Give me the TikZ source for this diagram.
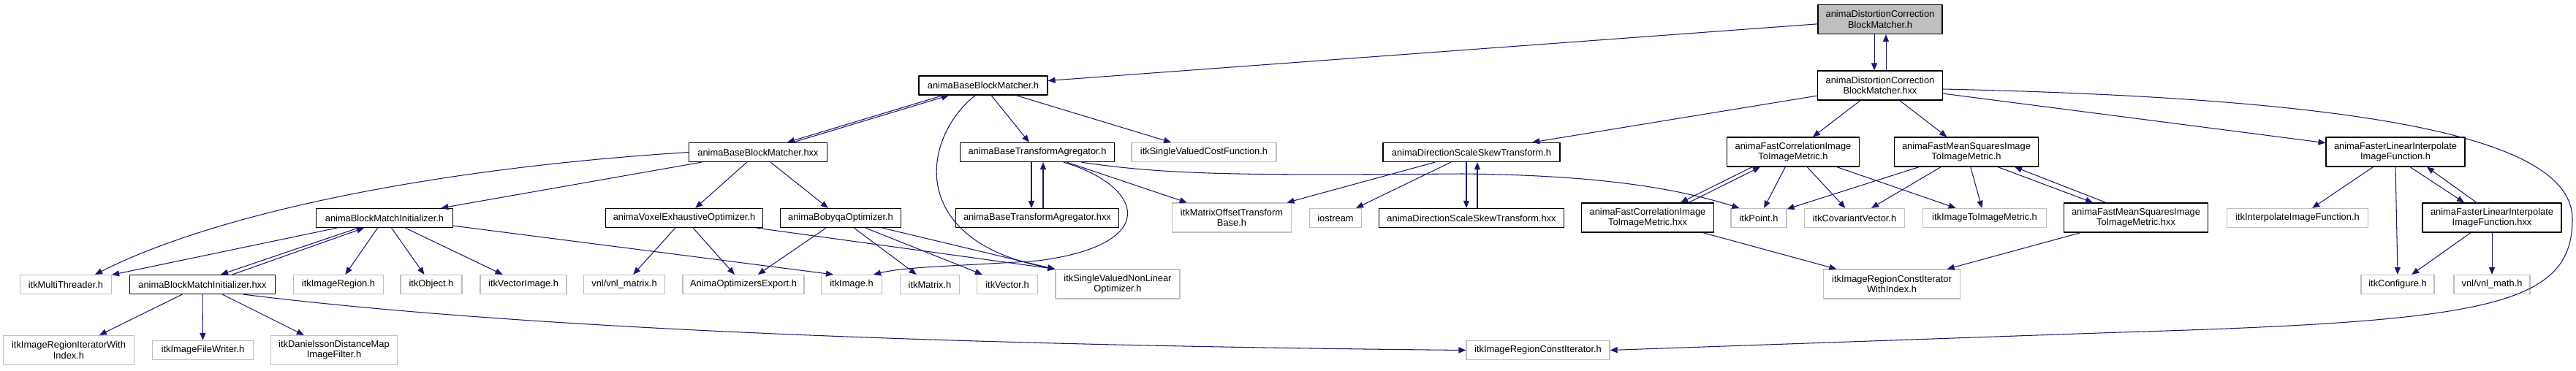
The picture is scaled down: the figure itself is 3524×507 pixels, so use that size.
\documentclass[tikz,border=0pt]{standalone}
\usepackage{fontspec}
\setmainfont{Liberation Sans}
\usetikzlibrary{arrows.meta,calc}
\definecolor{edgeblue}{HTML}{191970}
\definecolor{extgray}{HTML}{BFBFBF}
\tikzset{
  box/.style={draw=black, line width=0.35pt, fill=white, inner sep=0pt,
    minimum height=2.6mm, align=center, font=\fontsize{3.66pt}{4.07pt}\selectfont},
  ext/.style={box, draw=extgray},
  cur/.style={box, fill=extgray},
  two/.style={minimum height=4mm},
  dep/.style={draw=edgeblue, line width=0.3pt, -{Triangle[length=2.85pt,width=2.3pt]}},
}
\begin{document}
\begin{tikzpicture}[x=0.1mm, y=-0.1mm, line join=round]
\useasboundingbox (0,0) rectangle (3524,507);
% 第一、二层
\node[cur, two, minimum width=17mm]   (dcbmh) at (2572,26.5) {animaDistortionCorrection\\BlockMatcher.h};
\node[box, two, minimum width=17.1mm] (dcbmx) at (2572,117)  {animaDistortionCorrection\\BlockMatcher.hxx};
\node[box, minimum width=17.6mm]      (bbmh)  at (1345,117)  {animaBaseBlockMatcher.h};
% 第三层
\node[box, minimum width=18.9mm]      (bbmx)    at (1037,208.5) {animaBaseBlockMatcher.hxx};
\node[box, minimum width=21.1mm]      (btah)    at (1419,208.5) {animaBaseTransformAgregator.h};
\node[ext, minimum width=19.8mm]      (itksvcf) at (1647,208.5) {itkSingleValuedCostFunction.h};
\node[box, minimum width=24.2mm]      (dssth)   at (2013,208.5) {animaDirectionScaleSkewTransform.h};
\node[box, two, minimum width=18.1mm] (fch)     at (2453,208)   {animaFastCorrelationImage\\ToImageMetric.h};
\node[box, two, minimum width=19.7mm] (fmsh)    at (2690,208)   {animaFastMeanSquaresImage\\ToImageMetric.h};
\node[box, two, minimum width=19mm]   (flh)     at (3277,208)   {animaFasterLinearInterpolate\\ImageFunction.h};
% 第四层
\node[box, minimum width=18.7mm]      (bmih)     at (526,298.5)  {animaBlockMatchInitializer.h};
\node[box, minimum width=21.5mm]      (veo)      at (936,298.5)  {animaVoxelExhaustiveOptimizer.h};
\node[box, minimum width=16.5mm]      (bobyqa)   at (1150,298.5) {animaBobyqaOptimizer.h};
\node[box, minimum width=22.3mm]      (btax)     at (1419,298.5) {animaBaseTransformAgregator.hxx};
\node[ext, two, minimum width=16.3mm] (itkmotb)  at (1685,298)   {itkMatrixOffsetTransform\\Base.h};
\node[ext, minimum width=7.1mm]       (iostream) at (1827,298.5) {iostream};
\node[box, minimum width=25.3mm]      (dsstx)    at (2013,298.5) {animaDirectionScaleSkewTransform.hxx};
\node[box, two, minimum width=18.1mm] (fcx)      at (2254,298)   {animaFastCorrelationImage\\ToImageMetric.hxx};
\node[ext, minimum width=7.6mm]       (itkpoint) at (2406,298.5) {itkPoint.h};
\node[ext, minimum width=13.7mm]      (itkcv)    at (2537,298.5) {itkCovariantVector.h};
\node[ext, minimum width=16.9mm]      (itki2im)  at (2715,298.5) {itkImageToImageMetric.h};
\node[box, two, minimum width=19.7mm] (fmsx)     at (2922,298)   {animaFastMeanSquaresImage\\ToImageMetric.hxx};
\node[ext, minimum width=19.3mm]      (itkiif)   at (3143,298.5) {itkInterpolateImageFunction.h};
\node[box, two, minimum width=19mm]   (flx)      at (3409,298)   {animaFasterLinearInterpolate\\ImageFunction.hxx};
% 第五层
\node[ext, minimum width=12.5mm]      (itkmt)     at (90,389.5)   {itkMultiThreader.h};
\node[box, minimum width=19.9mm]      (bmix)      at (277,389.5)  {animaBlockMatchInitializer.hxx};
\node[ext, minimum width=12.3mm]      (itkir)     at (463,389.5)  {itkImageRegion.h};
\node[ext, minimum width=8.4mm]       (itkobj)    at (590,389.5)  {itkObject.h};
\node[ext, minimum width=11.8mm]      (itkvi)     at (716,389.5)  {itkVectorImage.h};
\node[ext, minimum width=11.1mm]      (vnlmat)    at (854,389.5)  {vnl/vnl\_matrix.h};
\node[ext, minimum width=16.6mm]      (aoe)       at (1017,389.5) {AnimaOptimizersExport.h};
\node[ext, minimum width=8.3mm]       (itkimage)  at (1165,389.5) {itkImage.h};
\node[ext, minimum width=8.1mm]       (itkmatrix) at (1272,389.5) {itkMatrix.h};
\node[ext, minimum width=8.3mm]       (itkvector) at (1378,389.5) {itkVector.h};
\node[ext, two, minimum width=17mm]   (itksvnlo)  at (1529,389)   {itkSingleValuedNonLinear\\Optimizer.h};
\node[ext, two, minimum width=18.7mm] (itkriwi)   at (2588,389)   {itkImageRegionConstIterator\\WithIndex.h};
\node[ext, minimum width=10mm]        (itkconf)   at (3280,389.5) {itkConfigure.h};
\node[ext, minimum width=10.4mm]      (vnlmath)   at (3409,389.5) {vnl/vnl\_math.h};
% 第六层
\node[ext, two, minimum width=17.9mm] (itkrii) at (94,479.5)   {itkImageRegionIteratorWith\\Index.h};
\node[ext, minimum width=13.8mm]      (itkfw)  at (277.5,479.5) {itkImageFileWriter.h};
\node[ext, two, minimum width=17.3mm] (itkddm) at (457,479.5)  {itkDanielssonDistanceMap\\ImageFilter.h};
\node[ext, minimum width=19.6mm]      (itkrci) at (2104,479.5) {itkImageRegionConstIterator.h};
% 依赖关系
\draw[dep] (dcbmh) -- (bbmh);
\draw[dep] ($(dcbmh.south)+(-8,0)$) -- ($(dcbmx.north)+(-8,0)$);
\draw[dep] ($(dcbmx.north)+(8,0)$) -- ($(dcbmh.south)+(8,0)$);
\draw[dep] (dcbmx) -- (dssth);
\draw[dep] (dcbmx) -- (fch);
\draw[dep] (dcbmx) -- (fmsh);
\draw[dep] (dcbmx) -- (flh);
\draw[dep] ($(dcbmx.east)+(0,5)$) .. controls (3250,135) and (3519,190) .. (3519,300)
  .. controls (3519,420) and (3400,440) .. (2900,455) -- (itkrci.east);
\draw[dep] ($(bbmh.south)+(-55,0)$) -- ($(bbmx.north)+(40,0)$);
\draw[dep] ($(bbmx.north)+(48,0)$) -- ($(bbmh.south)+(-47,0)$);
\draw[dep] (bbmh) -- (btah);
\draw[dep] (bbmh) -- (itksvcf);
\draw[dep] ($(bbmh.south)+(-11,0)$) .. controls (1260,190) and (1240,330) .. (itksvnlo.north west);
\draw[dep] (bbmx.west) .. controls (600,230) and (300,290) .. ($(itkmt.north)+(40,0)$);
\draw[dep] (bbmx) -- (bmih);
\draw[dep] (bbmx) -- (veo);
\draw[dep] (bbmx) -- (bobyqa);
\draw[dep] ($(btah.south)+(-8,0)$) -- ($(btax.north)+(-8,0)$);
\draw[dep] ($(btax.north)+(8,0)$) -- ($(btah.south)+(8,0)$);
\draw[dep] (btah) -- (itkmotb);
\draw[dep] ($(btah.south)+(36,0)$) .. controls (1565,255) and (1590,335) .. (1420,357)
  .. controls (1300,365) and (1240,365) .. ($(itkimage.north)+(30,0)$);
\draw[dep] ($(btah.south east)+(-46,0)$) .. controls (1600,240) and (1700,240) .. (2000,238)
  .. controls (2200,240) and (2300,260) .. ($(itkpoint.north west)+(12,0)$);
\draw[dep] (dssth) -- (itkmotb);
\draw[dep] (dssth) -- (iostream);
\draw[dep] ($(dssth.south)+(-7,0)$) -- ($(dsstx.north)+(-7,0)$);
\draw[dep] ($(dsstx.north)+(8,0)$) -- ($(dssth.south)+(8,0)$);
\draw[dep] ($(fch.south)+(-56,0)$) -- ($(fcx.north)+(45,0)$);
\draw[dep] ($(fcx.north)+(56,0)$) -- ($(fch.south)+(-45,0)$);
\draw[dep] (fch) -- (itkpoint);
\draw[dep] (fch) -- (itkcv);
\draw[dep] (fch) -- (itki2im);
\draw[dep] (fcx) -- (itkriwi);
\draw[dep] (fmsh) -- (itkpoint);
\draw[dep] (fmsh) -- (itkcv);
\draw[dep] (fmsh) -- (itki2im);
\draw[dep] ($(fmsh.south)+(43,0)$) -- ($(fmsx.north)+(-59,0)$);
\draw[dep] ($(fmsx.north)+(-41,0)$) -- ($(fmsh.south)+(66,0)$);
\draw[dep] (fmsx) -- (itkriwi);
\draw[dep] (flh) -- (itkiif);
\draw[dep] (flh.south) -- (itkconf.north);
\draw[dep] ($(flh.south)+(20,0)$) -- ($(flx.north)+(-38,0)$);
\draw[dep] ($(flx.north)+(-21,0)$) -- ($(flh.south)+(43,0)$);
\draw[dep] (flx) -- (itkconf);
\draw[dep] (flx) -- (vnlmath);
\draw[dep] (bmih) -- (itkmt);
\draw[dep] ($(bmih.south)+(-36,0)$) -- ($(bmix.north)+(25,0)$);
\draw[dep] ($(bmix.north)+(41,0)$) -- ($(bmih.south)+(-28,0)$);
\draw[dep] (bmih) -- (itkir);
\draw[dep] (bmih) -- (itkobj);
\draw[dep] (bmih) -- (itkvi);
\draw[dep] ($(bmih.south east)+(0,-3)$) -- ($(itkimage.north)+(-25,0)$);
\draw[dep] (bmix) -- (itkrii);
\draw[dep] (bmix) -- (itkfw);
\draw[dep] (bmix) -- (itkddm);
\draw[dep] ($(bmix.south)+(56,0)$) .. controls (550,430) and (1000,470) .. (itkrci.west);
\draw[dep] (veo) -- (vnlmat);
\draw[dep] (veo) -- (aoe);
\draw[dep] (veo) -- (itksvnlo.north west);
\draw[dep] (bobyqa) -- (aoe);
\draw[dep] (bobyqa) -- (itkmatrix);
\draw[dep] (bobyqa) -- (itkvector);
\draw[dep] (bobyqa) -- (itksvnlo);
\end{tikzpicture}
\end{document}
